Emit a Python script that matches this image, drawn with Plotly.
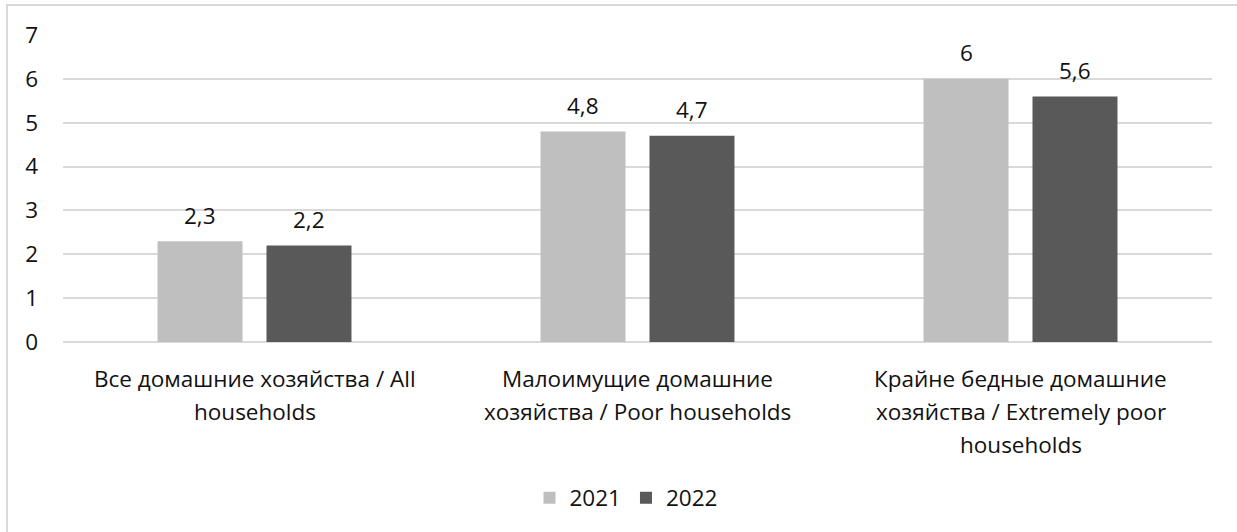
import plotly.graph_objects as go

categories = [
    "Все домашние хозяйства / All\nhouseholds",
    "Малоимущие домашние\nхозяйства / Poor households",
    "Крайне бедные домашние\nхозяйства / Extremely poor\nhouseholds",
]
values_2021 = [2.3, 4.8, 6.0]
values_2022 = [2.2, 4.7, 5.6]
series_names = ["2021", "2022"]
colors = ["#bfbfbf", "#595959"]
y_ticks = [0, 1, 2, 3, 4, 5, 6, 7]

FONT = "Open Sans"
FS = 22.5
TXT = "#111111"


def fmt(v):
    return f"{v:g}".replace(".", ",")


fig = go.Figure()
for name, vals, col in zip(series_names, [values_2021, values_2022], colors):
    fig.add_trace(go.Bar(
        x=categories, y=vals, name=name,
        marker=dict(color=col, line=dict(width=0)),
    ))

W, H = 1237, 532
L, R, T, B = 63, 25, 35, 190
pw, ph = W - L - R, H - T - B
BARGAP = 0.431
cat_px = pw / len(categories)
slot_px = cat_px * (1 - BARGAP) / 2

def px_x(p):
    return (p - L) / pw

def px_y(p):
    return (H - B - p) / ph

annotations = []
# value labels above each bar
for k, vals in enumerate([values_2021, values_2022]):
    shift = (k - 0.5) * slot_px
    for cat, v in zip(categories, vals):
        annotations.append(dict(
            x=cat, y=v, xref="x", yref="y", text=fmt(v), showarrow=False,
            xshift=shift, yshift=26, yanchor="middle",
            font=dict(family=FONT, size=FS, color=TXT)))
# category labels, one annotation per line
for cat in categories:
    for i, line in enumerate(cat.split("\n")):
        annotations.append(dict(
            x=cat, y=0, xref="x", yref="y", text=line, showarrow=False,
            yshift=-(36 + 33 * i), yanchor="middle",
            font=dict(family=FONT, size=FS, color=TXT)))

fig.update_layout(
    width=W, height=H,
    margin=dict(l=L, r=R, t=T, b=B),
    paper_bgcolor="white", plot_bgcolor="white",
    barmode="group", bargap=BARGAP, bargroupgap=0.22,
    font=dict(family=FONT, size=FS, color=TXT),
    showlegend=True,
    legend=dict(orientation="h", x=px_x(626), xanchor="center",
                y=px_y(498), yanchor="middle",
                font=dict(family=FONT, size=FS, color=TXT),
                itemwidth=30, traceorder="normal"),
    xaxis=dict(showgrid=False, showline=False, ticks="", zeroline=False,
               showticklabels=False),
    yaxis=dict(range=[0, 7], tickvals=y_ticks, showgrid=True,
               gridcolor="#d9d9d9", gridwidth=2, zeroline=True,
               zerolinecolor="#d9d9d9", zerolinewidth=2, showline=False,
               ticks="", ticklabelstandoff=24,
               tickfont=dict(family=FONT, size=FS, color=TXT)),
    annotations=annotations,
    shapes=[dict(type="rect", xref="paper", yref="paper",
                 x0=px_x(7), x1=px_x(W + 10), y0=px_y(H + 10), y1=px_y(5),
                 line=dict(color="#d9d9d9", width=2), fillcolor="rgba(0,0,0,0)",
                 layer="below")],
)

fig.write_html("out.html")
